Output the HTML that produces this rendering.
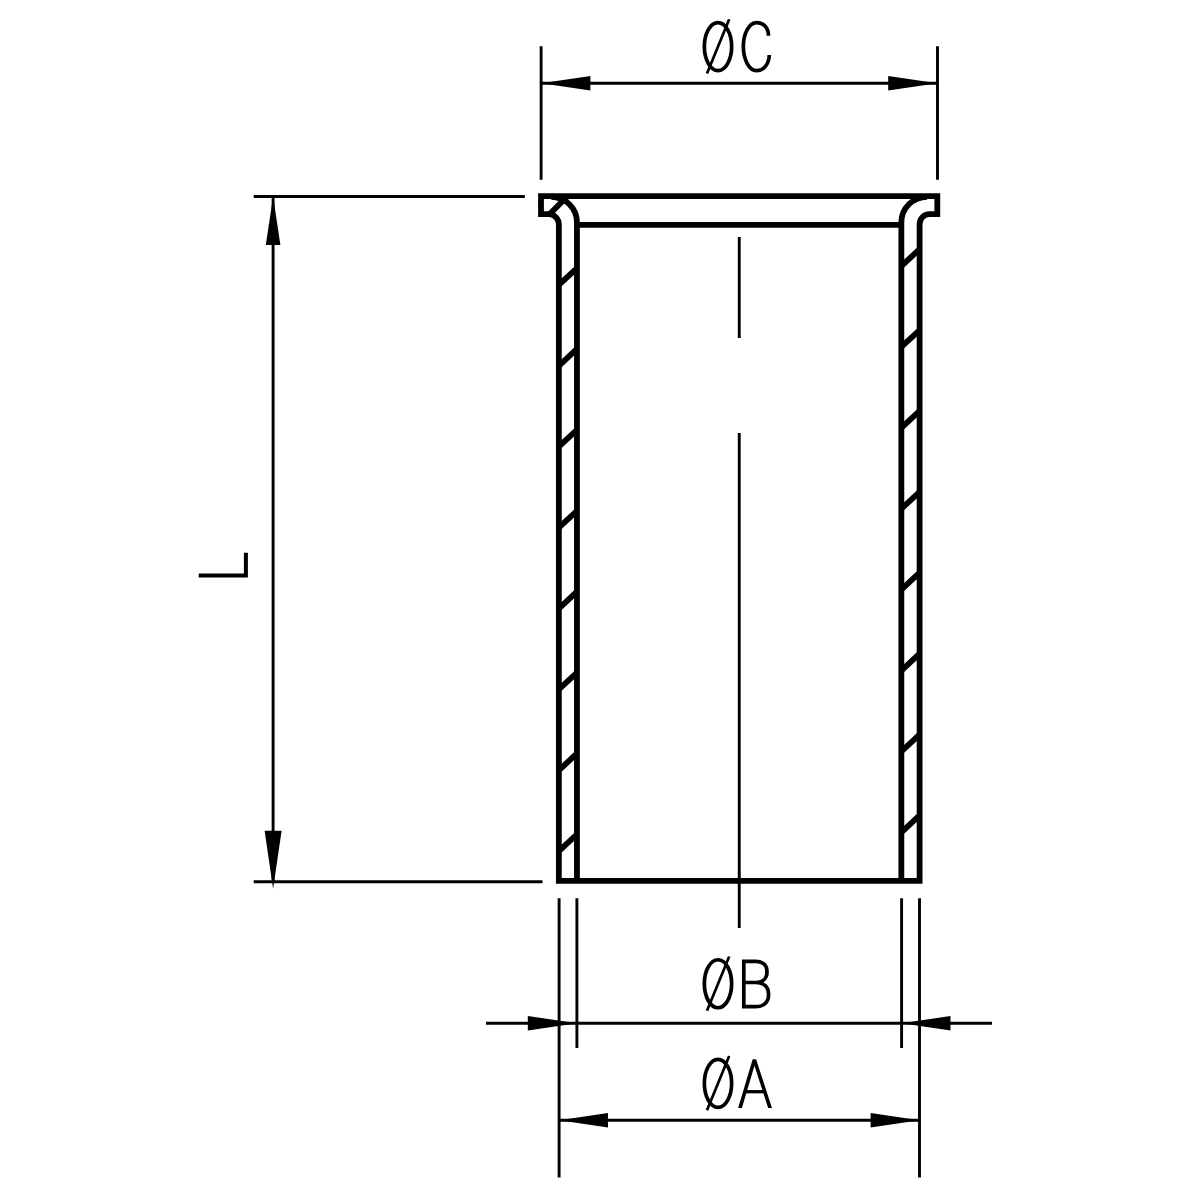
<!DOCTYPE html>
<html><head><meta charset="utf-8"><title>Drawing</title>
<style>
html,body{margin:0;padding:0;background:#fff;width:1200px;height:1200px;overflow:hidden;font-family:"Liberation Sans",sans-serif;}
svg{display:block}
</style></head>
<body>
<svg width="1200" height="1200" viewBox="0 0 1200 1200">
<rect width="1200" height="1200" fill="#fff"/>
<defs>
<clipPath id="clipA"><rect x="700" y="1040" width="100" height="67.9"/></clipPath>
</defs>
<g fill="none" stroke="#000" stroke-linecap="butt" stroke-linejoin="miter">
 <!-- thin dimension lines -->
 <g stroke-width="2.9">
  <!-- ØC -->
  <path d="M541.1 46.3V179.8M937.5 46.3V179.8M541.1 83.2H937.5"/>
  <!-- L -->
  <path d="M253.7 196.5H524.8M253.7 881.7H542.5M273.1 196.5V881.7"/>
  <!-- center line -->
  <path d="M739.25 237V338M739.25 433V928"/>
  <!-- ØB -->
  <path d="M576.9 898.3V1048M901.6 898.3V1048M486 1023.3H992"/>
  <!-- ØA -->
  <path d="M559.1 898.3V1177.5M919.5 898.3V1177.5M559.1 1120.3H919.5"/>
 </g>
 <!-- thick outlines -->
 <g stroke-width="5.8">
  <path d="M548.75 214.2H541V196.15H937.3V214.1H929.5A9.9 9.9 0 0 0 919.6 224.4V880.9H558.85V224.6A10.4 10.4 0 0 0 548.75 214.2Z"/>
  <path d="M576.95 880.9V222.5A25.75 25.75 0 0 0 551.2 196.75"/>
  <path d="M901.35 880.9V222.5A25.75 25.75 0 0 1 927.1 196.75"/>
  <path d="M576.95 224.9H901.35"/>
  <path d="M549.5 214.2L567.55 196.15"/>
  <path id="hatchL" d="M558.85 284.92L576.95 268.08M558.85 365.82L576.95 348.98M558.85 446.72L576.95 429.88M558.85 527.62L576.95 510.78M558.85 608.52L576.95 591.68M558.85 689.42L576.95 672.58M558.85 770.32L576.95 753.48M558.85 851.22L576.95 834.38"/>
  <path id="hatchR" d="M901.35 266.09L919.6 249.11M901.35 346.99L919.6 330.01M901.35 427.89L919.6 410.91M901.35 508.79L919.6 491.81M901.35 589.69L919.6 572.71M901.35 670.59L919.6 653.61M901.35 751.49L919.6 734.51M901.35 832.39L919.6 815.41"/>
 </g>
</g>
<!-- arrows -->
<g fill="#000" stroke="none">
 <path d="M541.1 83.2L590.4 75.9V90.5Z"/>
 <path d="M937.5 83.2L888.2 75.9V90.5Z"/>
 <path d="M273.1 196.5L265.8 245V245H280.4Z"/>
 <path d="M273.1 888.7L264.6 830.7H281.6Z"/>
 <path d="M576.9 1023.3L527.8 1016V1030.6Z"/>
 <path d="M901.6 1023.3L950.5 1016V1030.6Z"/>
 <path d="M559.1 1120.3L608 1113V1127.6Z"/>
 <path d="M919.5 1120.3L870.6 1113V1127.6Z"/>
</g>
<!-- text glyphs -->
<g fill="none" stroke="#000" stroke-width="3.7" stroke-linejoin="miter">
 <g id="phiC">
  <ellipse cx="718" cy="46.6" rx="13.65" ry="24"/>
  <path d="M707 73.6L729.2 19.3" stroke-width="2.7"/>
 </g>
 <path d="M768.5 35.75C768.4 27.5 763.4 22.6 756.5 22.6C749.24 22.6 743.35 33.35 743.35 46.6C743.35 59.85 749.24 70.65 756.5 70.65C763.6 70.65 768.9 64.5 769.3 55"/>
 <use href="#phiC" transform="translate(0 937.15)"/>
 <use href="#phiC" transform="translate(0 1036.75)"/>
 <!-- B -->
 <path d="M743.8 982.5V961.3H755.5C763 961.3 767 965.5 767 971.9C767 978.5 762.5 982.5 755.5 982.5H743.8V1006.6H755.5C764 1006.6 768.6 1002 768.6 994.5C768.6 987 764 982.5 755.5 982.5"/>
 <!-- A -->
 <g clip-path="url(#clipA)">
  <path d="M739 1111.5L754.4 1059.8L771.2 1111.5" stroke-linejoin="bevel" stroke-width="3.6"/>
 </g>
 <path d="M746 1091.7H764" stroke-width="3.3"/>
 <!-- L -->
 <path d="M198.75 575.6H245.9V552.8" stroke-width="4"/>
</g>
</svg>
</body></html>
